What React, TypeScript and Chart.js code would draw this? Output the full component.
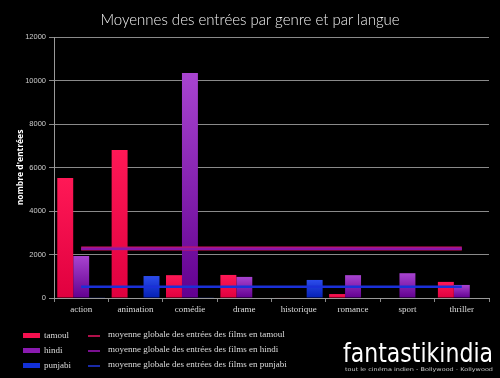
import React, { useEffect, useRef } from "react";
import { Chart, registerables } from "chart.js";

Chart.register(...registerables);

const categories = ["action", "animation", "comédie", "drame", "historique", "romance", "sport", "thriller"];
const tamoul = [5520, 6800, 1050, 1060, 25, 180, 0, 740];
const hindi = [1930, 0, 10350, 970, 0, 1050, 1140, 600];
const punjabi = [30, 1010, 30, 0, 830, 0, 0, 0];
const tamoulAvg = 2280;
const hindiAvg = 2270;
const punjabiAvg = 520;
const yTicks = [0, 2000, 4000, 6000, 8000, 10000, 12000];

const legendBars = [
  { label: "tamoul", color: "#f5104f" },
  { label: "hindi", color: "#8a1ab0" },
  { label: "punjabi", color: "#1230d8" },
];
const legendLines = [
  { label: "moyenne globale des entrées des films en tamoul", color: "#b0104a" },
  { label: "moyenne globale des entrées des films en hindi", color: "#7a1090" },
  { label: "moyenne globale des entrées des films en punjabi", color: "#1a2aa8" },
];

const grad = (top: string, bottom: string) => (ctx: any) => {
  const chart = ctx.chart;
  if (ctx.type !== "data" || !chart.chartArea || !chart.scales.y) return bottom;
  const ys = chart.scales.y;
  const y0 = ys.getPixelForValue(0);
  const y1 = ys.getPixelForValue(ctx.raw);
  if (Math.abs(y0 - y1) < 1 || !isFinite(y1)) return top;
  const g = chart.ctx.createLinearGradient(0, y1, 0, y0);
  g.addColorStop(0, top);
  g.addColorStop(1, bottom);
  return g;
};

export default function App() {
  const ref = useRef<HTMLCanvasElement>(null);
  useEffect(() => {
    const canvas = ref.current!;
    const chart = new Chart(canvas, {
      type: "bar",
      data: {
        labels: categories,
        datasets: [
          { type: "line", label: "moy tamoul", data: categories.map(() => tamoulAvg), borderColor: "#d0145a", borderWidth: 4, pointRadius: 0, order: 1 } as any,
          { type: "line", label: "moy hindi", data: categories.map(() => hindiAvg), borderColor: "#8a16aa", borderWidth: 2.5, pointRadius: 0, order: 0 } as any,
          { type: "line", label: "moy punjabi", data: categories.map(() => punjabiAvg), borderColor: "#1a30d8", borderWidth: 2.5, pointRadius: 0, order: 0 } as any,
          { label: "tamoul", data: tamoul, backgroundColor: grad("#ff1856", "#e0003f"), order: 5 },
          { label: "hindi", data: hindi, backgroundColor: grad("#a844d0", "#620090"), order: 5 },
          { label: "punjabi", data: punjabi, backgroundColor: grad("#2c4cec", "#0420b4"), order: 5 },
        ],
      },
      options: {
        responsive: false,
        animation: false,
        maintainAspectRatio: false,
        layout: { padding: { left: 11, right: 11, top: 37, bottom: 60 } },
        datasets: { bar: { categoryPercentage: 0.88, barPercentage: 1 } },
        plugins: { legend: { display: false }, tooltip: { enabled: false }, title: { display: false } },
        scales: {
          x: {
            grid: { display: true, drawOnChartArea: false, offset: true, color: "#888", tickLength: 4 },
            border: { color: "#999" },
            ticks: { color: "#ddd", font: { family: "Liberation Serif", size: 9 }, padding: 2 },
            afterFit: (s: any) => { s.height = 20; },
          },
          y: {
            min: 0,
            max: 12000,
            afterBuildTicks: (s: any) => { s.ticks = yTicks.map((v) => ({ value: v })); },
            grid: { color: "#8a8a8a", tickLength: 5, lineWidth: 1 },
            border: { color: "#999" },
            ticks: { color: "#ccc", font: { family: "Liberation Sans", size: 7.5 }, padding: 3, callback: (v: any) => String(v) },
            title: { display: true, text: "nombre d'entrées", color: "#fff", font: { family: "Open Sans", size: 8.5, weight: "bold" }, padding: { top: 4, bottom: 0 } },
            afterFit: (s: any) => { s.width = 43; },
          },
        },
      } as any,
    });
    return () => chart.destroy();
  }, []);

  return (
    <div style={{ position: "fixed", left: 0, top: 0, width: 500, height: 378, background: "#000", overflow: "hidden" }}>
      <canvas ref={ref} width={500} height={378} style={{ position: "absolute", left: 0, top: 0, width: 500, height: 378 }} />
      <div style={{ position: "absolute", left: 0, top: 9, width: 500, textAlign: "center", color: "#f2f2f2", fontFamily: "Lato, 'Open Sans', sans-serif", fontWeight: 300, fontSize: 15, lineHeight: "20px" }}>
        Moyennes des entrées par genre et par langue
      </div>
      {legendBars.map((b, i) => (
        <div key={b.label} style={{ position: "absolute", left: 23, top: 329 + i * 15, height: 12, display: "flex", alignItems: "center" }}>
          <div style={{ width: 17, height: 5, background: b.color }} />
          <span style={{ marginLeft: 4, color: "#ddd", fontFamily: "Liberation Serif, serif", fontSize: 9 }}>{b.label}</span>
        </div>
      ))}
      {legendLines.map((l, i) => (
        <div key={l.label} style={{ position: "absolute", left: 88, top: 328 + i * 15, height: 12, display: "flex", alignItems: "center" }}>
          <div style={{ width: 12, height: 2, background: l.color, marginTop: 3 }} />
          <span style={{ marginLeft: 8, color: "#ddd", fontFamily: "Liberation Serif, serif", fontSize: 9 }}>{l.label}</span>
        </div>
      ))}
      <svg width={160} height={40} style={{ position: "absolute", left: 340, top: 334 }}>
        <text x={3} y={28} textLength={150} lengthAdjust="spacingAndGlyphs" fill="#fff" fontFamily="DejaVu Sans" fontSize={27} fontWeight={400}>fantastikindia</text>
        <text x={5} y={37} textLength={148} lengthAdjust="spacingAndGlyphs" fill="#ccc" fontFamily="DejaVu Sans" fontSize={5}>tout le cinéma indien - Bollywood - Kollywood</text>
      </svg>
    </div>
  );
}
